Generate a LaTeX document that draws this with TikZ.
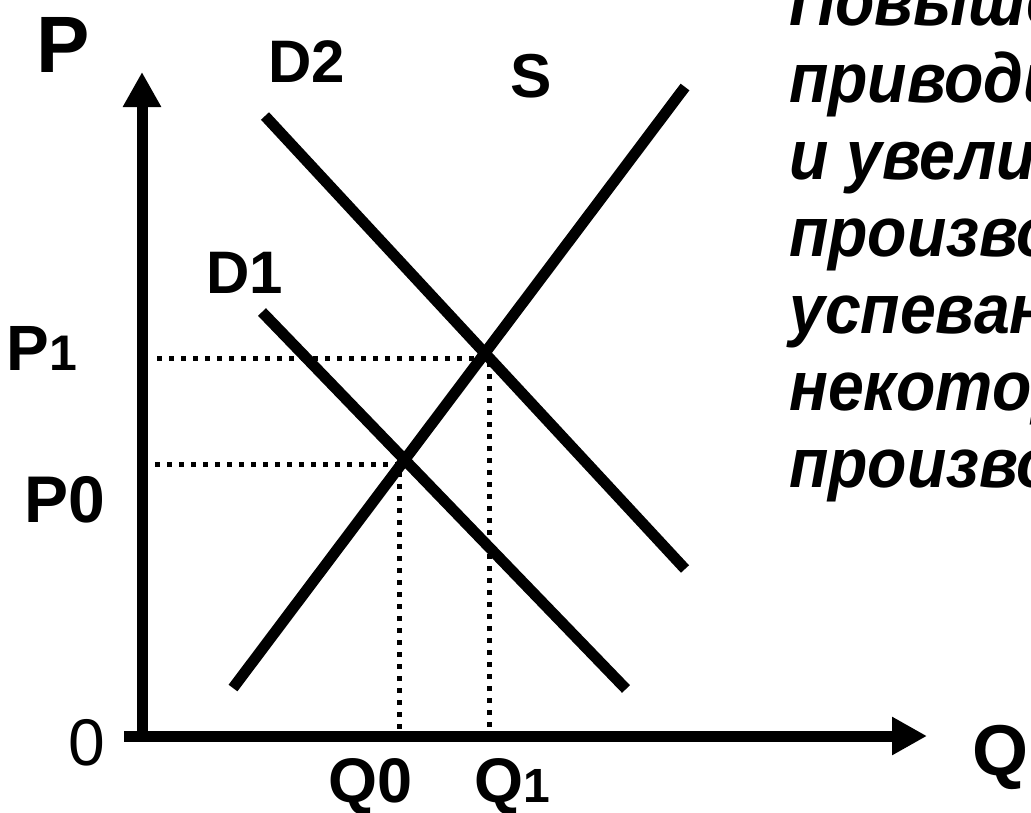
\documentclass[tikz,border=0pt]{standalone}
\usepackage{fontspec}
\usepackage{graphicx}
\setmainfont{Liberation Sans}
\usetikzlibrary{arrows.meta}
\newcommand{\squeezetxt}[1]{\scalebox{0.92}[1]{#1}}
\tikzset{
  axis/.style={line width=11pt, -{Triangle[length=35pt,width=36pt]}},
  curve/.style={line width=11pt},
  dotline/.style={line width=5pt, dash pattern=on 5pt off 7pt},
  lbl/.style={inner sep=0pt, anchor=base, font=\bfseries},
  txt/.style={inner sep=0pt, anchor=base west, font=\bfseries\itshape\fontsize{70}{77}\selectfont}
}
\begin{document}
\begin{tikzpicture}[x=1pt,y=-1pt]
\useasboundingbox (0,0) rectangle (1031,812);
\clip (0,0) rectangle (1031,812);
% axes
\coordinate (O) at (142,741.5);
\coordinate (Ytop) at (142,72);
\coordinate (Xl) at (124,736);
\coordinate (Xr) at (927,736);
\draw[axis] (O) -- (Ytop);
\draw[axis] (Xl) -- (Xr);
% curves
\coordinate (S1) at (233,688);
\coordinate (S2) at (685,87);
\coordinate (D2a) at (265,116);
\coordinate (D2b) at (685,569);
\coordinate (D1a) at (262,312);
\coordinate (D1b) at (626,689);
\draw[curve] (S1) -- (S2);
\draw[curve] (D2a) -- (D2b);
\draw[curve] (D1a) -- (D1b);
% dotted guides
\coordinate (P1l) at (157,358);
\coordinate (C1) at (489,358);
\coordinate (Q1b) at (489,731);
\coordinate (P0l) at (155,464);
\coordinate (C0) at (399,464);
\coordinate (Q0b) at (399,731);
\draw[dotline] (P1l) -- (C1) -- (Q1b);
\draw[dotline] (P0l) -- (C0) -- (Q0b);
% labels
\node[lbl, font=\bfseries\fontsize{80}{90}\selectfont] (lP) at (63,72) {P};
\node[lbl, font=\bfseries\fontsize{60}{70}\selectfont] (lD2) at (307,82) {D2};
\node[lbl, font=\bfseries\fontsize{62}{70}\selectfont] (lS) at (531,97) {S};
\node[lbl, font=\bfseries\fontsize{60}{70}\selectfont] (lD1) at (245,293) {D1};
\node[lbl] (lP1) at (42,370) {\fontsize{64}{70}\selectfont P\fontsize{50}{60}\selectfont 1};
\node[lbl, font=\bfseries\fontsize{66}{70}\selectfont] (lP0) at (65,522) {P0};
\node[lbl, font=\fontsize{66}{70}\selectfont] (l0) at (87,765) {0};
\node[lbl, font=\bfseries\fontsize{63}{70}\selectfont] (lQ0) at (371,802) {Q0};
\node[lbl] (lQ1) at (512,802) {\fontsize{63}{70}\selectfont Q\fontsize{48}{60}\selectfont 1};
\node[lbl, anchor=base west, font=\bfseries\fontsize{72}{80}\selectfont] (lQ) at (972,775) {Q};
% text
\node[txt] (t1) at (789,25) {\squeezetxt{Повышение}};
\node[txt] (t2) at (789,102) {\squeezetxt{приводит}};
\node[txt] (t3) at (789,179) {\squeezetxt{и увеличению}};
\node[txt] (t4) at (789,256) {\squeezetxt{производства}};
\node[txt] (t5) at (789,333) {\squeezetxt{успевания}};
\node[txt] (t6) at (789,410) {\squeezetxt{некоторых}};
\node[txt] (t7) at (789,487) {\squeezetxt{производителей}};
\end{tikzpicture}
\end{document}
